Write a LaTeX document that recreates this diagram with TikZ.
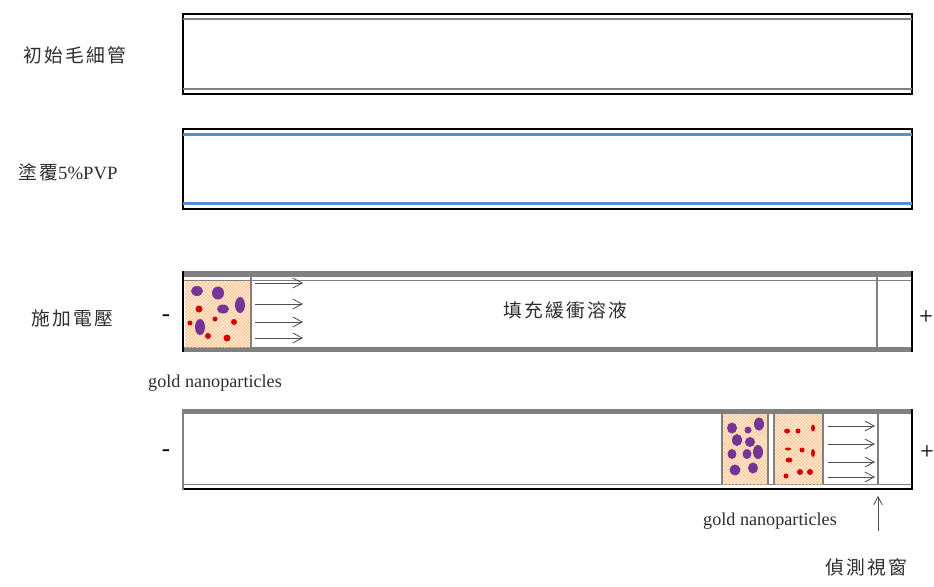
\documentclass[tikz,border=0pt]{standalone}
\usepackage{fontspec}
\setmainfont{Liberation Serif}
\newfontfamily\cjk[LetterSpace=12]{Noto Sans CJK TC}
\usetikzlibrary{arrows.meta,patterns}

\definecolor{wallgray}{RGB}{128,128,128}
\definecolor{pvpblue}{RGB}{85,145,210}
\definecolor{nppurple}{RGB}{118,52,150}
\definecolor{ionred}{RGB}{215,0,0}
\definecolor{peach}{RGB}{253,234,222}
\definecolor{inkgray}{RGB}{45,45,45}

\tikzset{
  cjklab/.style={font=\cjk\fontsize{16}{19}\selectfont, text=inkgray},
  enlab/.style={font=\fontsize{15.5}{17}\selectfont, text=inkgray},
  signlab/.style={font=\fontsize{21}{23}\selectfont},
  wall/.style={line width=1.2pt, black},
  band/.style={fill=wallgray},
  flow/.style={wallgray!60!black, line width=0.7pt, -{Straight Barb[length=2.8mm,width=3mm]}},
  zone/.style={fill=peach, postaction={pattern=crosshatch, pattern color=orange!45}},
  divider/.style={wallgray, line width=1.1pt},
}

\begin{document}
\begin{tikzpicture}[x=0.3mm, y=-0.3mm]
    \useasboundingbox (0,0) rectangle (934,586);

    % bare capillary
    \draw[wall] (183,14) rectangle (912,94);
    \draw[wallgray, line width=0.9pt] (183,19) -- (912,19);
    \draw[wallgray, line width=0.9pt] (183,89) -- (912,89);
    \node[cjklab] (bare) at (75,55) {初始毛細管};

    % PVP coated capillary
    \draw[wall] (183,129) rectangle (912,209);
    \draw[pvpblue, line width=2.4pt] (183,134.5) -- (912,134.5);
    \draw[pvpblue, line width=2.4pt] (183,203.5) -- (912,203.5);
    \node[cjklab] (coat) at (68,172) {塗覆\rmfamily 5\%PVP};

    % capillary under voltage, sample just injected
    \fill[band] (183,271) rectangle (912,277);
    \fill[band] (183,347) rectangle (912,352);
    \draw[wallgray, line width=0.7pt] (183,280) -- (912,280);
    \draw[wall] (183,271) -- (183,352);
    \draw[wall] (912,271) -- (912,352);
    \draw[divider] (877,277) -- (877,347);
    \fill[zone] (185,281) rectangle (250,347);
    \draw[divider] (251,277) -- (251,347);

    \foreach \cx/\cy/\rx/\ry in {197/291/6/5, 218/293/6/6.5, 240/305/5/8,
                                  223/309/6/4.5, 200/327/5/8}
        \fill[nppurple] (\cx,\cy) ellipse ({\rx*0.3mm} and {\ry*0.3mm});
    \foreach \cx/\cy/\r in {199/309/3.5, 215/319/2.5, 234/322/3,
                            190/323/2.5, 208/336/3, 227/338/3.5}
        \fill[ionred] (\cx,\cy) circle ({\r*0.3mm});

    \foreach \fy in {283,304,322,338}
        \draw[flow] (255,\fy) -- (303,\fy);

    \node[cjklab] (buffer) at (565,310) {填充緩衝溶液};
    \node[cjklab] (volt) at (72,318) {施加電壓};
    \node[signlab] (minusA) at (166,318) {-};
    \node[signlab] (plusA) at (926,318) {+};
    \node[enlab] (gnpA) at (215,383) {gold nanoparticles};

    % separated bands reaching the window
    \fill[band] (183,409) rectangle (912,414);
    \draw[wallgray, line width=0.7pt] (183,484) -- (912,484);
    \draw[black, line width=2pt] (183,489) -- (912,489);
    \draw[wallgray, line width=1.2pt] (183,409) -- (183,490);
    \draw[wall] (912,409) -- (912,490);
    \draw[divider] (878,414) -- (878,484);

    \fill[zone] (723,414) rectangle (768,484);
    \fill[zone] (774,414) rectangle (823,484);
    \draw[divider] (722,414) -- (722,484);
    \draw[divider] (768,414) -- (768,484);
    \draw[divider] (774,414) -- (774,484);
    \draw[divider] (823,414) -- (823,484);

    \foreach \cx/\cy/\rx/\ry in {732/428/5/5.5, 748/430/3.5/3.5, 759/424/5/6.5,
                                  737/440/5/6, 750/442/5/5, 758/452/5/7,
                                  732/454/4.5/5, 747/454/4.5/5, 735/470/5.5/5.5,
                                  753/468/5/5.5}
        \fill[nppurple] (\cx,\cy) ellipse ({\rx*0.3mm} and {\ry*0.3mm});
    \foreach \cx/\cy/\rx/\ry in {787/431/3/2.5, 798/431/2.5/2.5, 813/428/2/3.5,
                                  788/449/3/1.5, 802/450/2.5/2.5, 813/453/2/4,
                                  789/460/3.5/2.5, 786/476/2.5/2.5, 800/472/3/3,
                                  810/472/3/3}
        \fill[ionred] (\cx,\cy) ellipse ({\rx*0.3mm} and {\ry*0.3mm});

    \foreach \fy in {426,444,462,477}
        \draw[flow] (828,\fy) -- (875,\fy);

    \node[signlab] (minusB) at (166,453) {-};
    \node[signlab] (plusB) at (927,453) {+};
    \node[enlab] (gnpB) at (770,521) {gold nanoparticles};

    % detection window
    \node[cjklab] (window) at (866,567) {偵測視窗};
    \coordinate (winfoot) at (878,531);
    \coordinate (wintip) at (878,496);
    \draw[wallgray!60!black, line width=0.7pt, -{Straight Barb[length=2.4mm,width=2.6mm]}] (winfoot) -- (wintip);
\end{tikzpicture}
\end{document}
